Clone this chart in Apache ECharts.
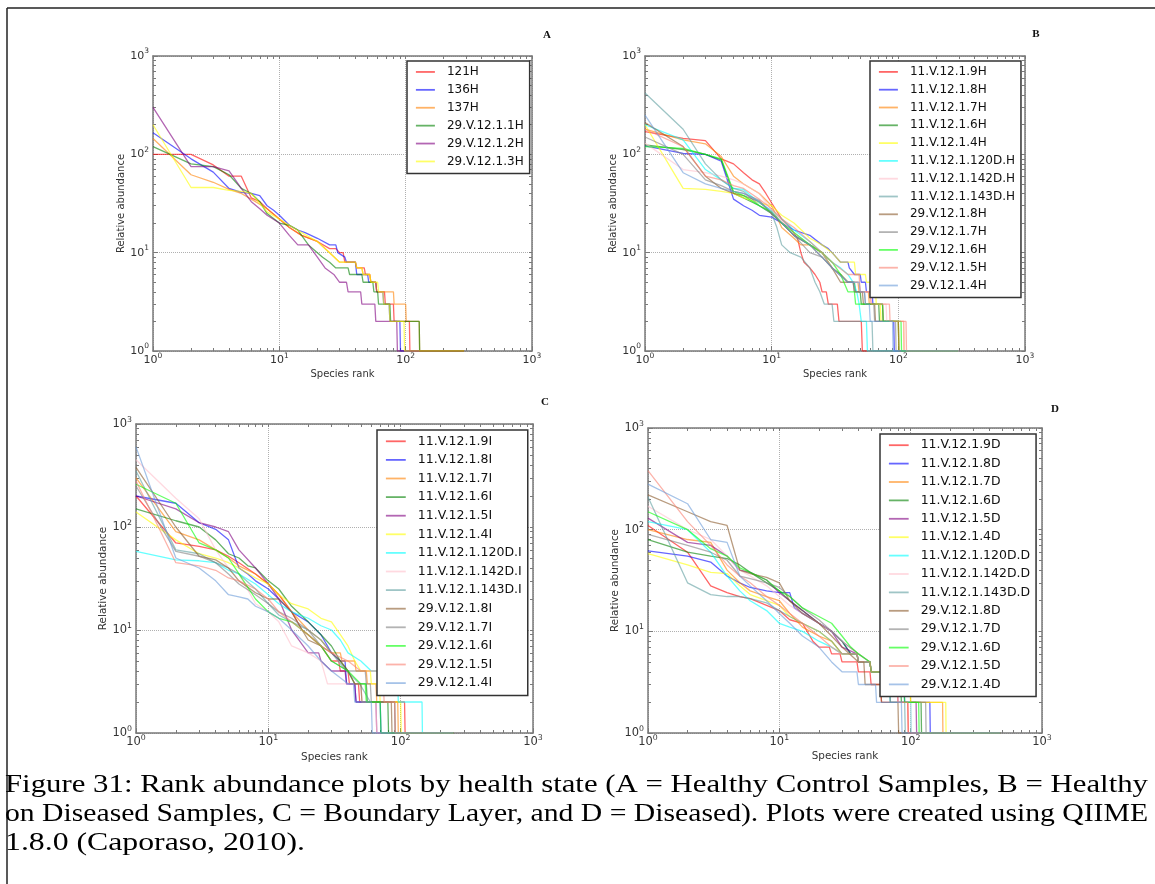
<!DOCTYPE html>
<html>
<head>
<meta charset="utf-8">
<script src="https://cdn.jsdelivr.net/npm/echarts@6/dist/echarts.min.js"></script>
<style>
  html, body { margin: 0; padding: 0; background: #fff; }
  #chart { width: 1155px; height: 884px; }
</style>
</head>
<body>
<div id="chart"></div>
<script>
// ---- data: [species rank, relative abundance] ----
const minorTicks = [1, 2, 3, 4, 5, 6, 7, 8, 9, 10, 20, 30, 40, 50, 60, 70, 80, 90,
  100, 200, 300, 400, 500, 600, 700, 800, 900, 1000];

// panel A: healthy control samples
const namesA = ['121H', '136H', '137H', '29.V.12.1.1H', '29.V.12.1.2H', '29.V.12.1.3H'];
const A_121H = [[1,100],[2,100],[3,78],[4,60],[5,60],[6,36],[7,33],[8,28],[10,22],[12,18],[15,15],[20,13],[25,11],[28,11],[30,10],[32,10],[33,8],[40,8],[41,7],[47,7],[48,6],[52,6],[53,5],[58,5],[59,4],[68,4],[69,3],[80,3],[81,2],[107,2],[108,1],[290,1]];
const A_136H = [[1,166],[2,90],[3,66],[4,45],[5,41],[6,40],[7,38],[8,30],[9,27],[10,24],[12,19],[14,17],[16,16],[20,14],[25,12],[28,12],[29,10],[33,9],[34,8],[40,8],[41,6],[50,6],[51,5],[58,5],[59,4],[66,4],[67,3],[74,3],[75,2],[90,2],[91,1],[290,1]];
const A_137H = [[1,145],[2,62],[3,52],[4,44],[5,40],[6,35],[8,28],[10,22],[12,18],[15,15],[20,13],[25,10],[30,8],[40,8],[41,7],[45,7],[46,6],[52,6],[53,5],[58,5],[59,4],[80,4],[81,3],[100,3],[101,2],[128,2],[129,1],[290,1]];
const A_11H = [[1,120],[2,80],[3,75],[4,62],[5,45],[6,40],[7,33],[8,25],[10,20],[12,19],[14,17],[17,12],[20,10],[22,9],[25,8],[28,7],[35,7],[36,6],[45,6],[46,5],[55,5],[56,4],[60,4],[61,3],[75,3],[76,2],[128,2],[129,1],[290,1]];
const A_12H = [[1,300],[2,75],[3,75],[4,68],[5,45],[6,33],[7,28],[8,24],[10,20],[12,15],[14,12],[17,12],[20,9],[23,7],[27,6],[30,5],[34,5],[35,4],[44,4],[45,3],[57,3],[58,2],[85,2],[86,1],[290,1]];
const A_13H = [[1,200],[2,46],[3,46],[4,43],[5,42],[6,40],[8,26],[10,22],[12,19],[15,16],[20,13],[25,10],[30,8],[40,8],[41,7],[45,7],[46,6],[52,6],[53,5],[60,5],[61,4],[66,4],[67,3],[74,3],[75,2],[97,2],[98,1],[290,1]];

// panel B: healthy on diseased samples
const namesB = ['11.V.12.1.9H', '11.V.12.1.8H', '11.V.12.1.7H', '11.V.12.1.6H', '11.V.12.1.4H',
  '11.V.12.1.120D.H', '11.V.12.1.142D.H', '11.V.12.1.143D.H', '29.V.12.1.8H', '29.V.12.1.7H',
  '29.V.12.1.6H', '29.V.12.1.5H', '29.V.12.1.4H'];
const B_9H = [[1,170],[2,145],[3,138],[4,90],[5,80],[6,65],[7,55],[8,50],[9,40],[10,32],[12,22],[14,18],[16,14],[17,10],[18,8],[20,7],[22,6],[24,5],[25,4],[27,4],[28,3],[33,3],[34,2],[51,2],[52,1],[295,1]];
const B_8H = [[1,122],[2,102],[3,100],[4,85],[5,35],[6,30],[7,27],[8,24],[10,23],[12,20],[15,17],[20,15],[25,12],[28,11],[30,10],[35,8],[40,8],[41,7],[45,6],[50,6],[51,5],[55,5],[56,4],[62,4],[63,3],[75,3],[76,2],[92,2],[93,1],[295,1]];
const B_7H = [[1,180],[2,140],[3,128],[4,95],[5,60],[6,50],[8,40],[10,30],[12,18],[15,14],[17,12],[20,12],[25,10],[30,7],[35,6],[40,5],[48,5],[49,4],[58,4],[59,3],[75,3],[76,2],[110,2],[111,1],[295,1]];
const B_6H = [[1,125],[2,112],[3,100],[4,88],[5,40],[6,36],[8,30],[10,25],[12,20],[15,15],[20,12],[25,10],[30,7],[35,6],[40,5],[45,5],[46,4],[50,4],[51,3],[70,3],[71,2],[100,2],[101,1],[295,1]];
const B_4H = [[1,200],[2,45],[3,44],[4,42],[5,40],[6,36],[8,32],[10,30],[12,24],[15,20],[18,16],[20,14],[25,12],[30,10],[35,8],[45,8],[46,6],[55,6],[56,5],[62,5],[63,4],[66,4],[67,3],[72,3],[73,2],[100,2],[101,1],[295,1]];
const B_120DH = [[1,200],[2,140],[3,70],[4,55],[5,45],[6,44],[8,32],[10,27],[12,22],[15,17],[20,13],[25,10],[30,8],[35,7],[40,6],[44,5],[47,4],[49,3],[51,2],[56,2],[57,1],[295,1]];
const B_142DH = [[1,130],[2,70],[3,65],[4,60],[5,55],[6,50],[8,40],[10,27],[12,21],[15,16],[20,12],[25,10],[30,7],[40,5],[49,5],[50,4],[60,4],[61,3],[80,3],[81,2],[110,2],[111,1],[295,1]];
const B_143DH = [[1,420],[2,180],[3,80],[4,55],[5,45],[6,42],[8,30],[10,25],[11,18],[12,12],[14,10],[17,9],[20,7],[22,5],[24,4],[26,3],[30,3],[31,2],[62,2],[63,1],[295,1]];
const B_29_8H = [[1,210],[2,120],[3,60],[4,45],[5,40],[6,38],[8,33],[10,25],[12,20],[15,15],[20,12],[25,9],[30,7],[35,5],[44,5],[45,4],[52,4],[53,3],[65,3],[66,2],[100,2],[101,1],[295,1]];
const B_29_7H = [[1,150],[2,100],[3,55],[4,48],[5,42],[6,40],[8,34],[10,25],[12,20],[15,15],[20,10],[25,9],[30,7],[40,5],[44,5],[45,4],[54,4],[55,3],[64,3],[65,2],[95,2],[96,1],[295,1]];
const B_29_6H = [[1,120],[2,115],[3,100],[4,90],[5,42],[6,38],[8,30],[10,26],[12,20],[15,16],[20,12],[25,10],[30,8],[35,6],[40,4],[45,4],[46,3],[75,3],[76,2],[105,2],[106,1],[295,1]];
const B_29_5H = [[1,180],[2,120],[3,60],[4,55],[5,48],[6,45],[8,35],[10,28],[12,22],[15,18],[20,13],[25,10],[30,8],[40,6],[49,6],[50,4],[60,4],[61,3],[85,3],[86,2],[115,2],[116,1],[295,1]];
const B_29_4H = [[1,250],[2,65],[3,50],[4,45],[5,42],[6,40],[8,33],[10,26],[12,20],[15,15],[20,12],[25,9],[30,7],[40,5],[49,5],[50,4],[54,4],[55,3],[59,3],[60,2],[90,2],[91,1],[295,1]];

// panel C: boundary layer
const namesC = ['11.V.12.1.9I', '11.V.12.1.8I', '11.V.12.1.7I', '11.V.12.1.6I', '11.V.12.1.5I',
  '11.V.12.1.4I', '11.V.12.1.120D.I', '11.V.12.1.142D.I', '11.V.12.1.143D.I', '29.V.12.1.8I',
  '29.V.12.1.7I', '29.V.12.1.6I', '29.V.12.1.5I', '29.V.12.1.4I'];
const C_9I = [[1,200],[2,70],[3,65],[4,60],[5,52],[6,45],[8,35],[10,28],[12,22],[15,15],[18,10],[20,9],[25,7],[30,5],[34,5],[35,4],[40,4],[41,3],[48,3],[49,2],[107,2],[108,1],[250,1]];
const C_8I = [[1,200],[2,170],[3,110],[4,95],[5,75],[6,40],[7,35],[8,30],[10,25],[12,20],[15,15],[18,13],[20,12],[25,9],[30,6],[35,5],[38,5],[39,3],[45,3],[46,2],[70,2],[71,1],[250,1]];
const C_7I = [[1,300],[2,90],[3,75],[4,60],[5,50],[6,42],[8,35],[10,28],[12,22],[15,15],[20,10],[25,8],[30,6],[35,6],[36,5],[45,5],[46,4],[55,4],[56,3],[65,3],[66,2],[95,2],[96,1],[250,1]];
const C_6I = [[1,150],[2,115],[3,100],[4,75],[5,55],[6,50],[7,42],[8,40],[10,30],[12,25],[15,17],[20,12],[25,9],[30,7],[35,5],[40,4],[45,3],[55,3],[56,2],[80,2],[81,1],[250,1]];
const C_5I = [[1,200],[2,150],[3,110],[4,100],[5,90],[6,60],[8,40],[10,28],[12,20],[15,10],[17,8],[20,6],[24,6],[25,5],[30,4],[38,4],[39,3],[45,3],[46,2],[65,2],[66,1],[250,1]];
const C_4I = [[1,140],[2,75],[3,55],[4,50],[5,45],[6,40],[8,32],[10,28],[12,22],[15,18],[20,16],[25,13],[30,12],[35,9],[40,7],[45,5],[50,4],[59,4],[60,3],[69,3],[70,2],[100,2],[101,1],[250,1]];
const C_120DI = [[1,58],[2,48],[3,47],[4,45],[5,38],[6,35],[8,28],[10,22],[12,18],[15,15],[20,13],[25,11],[30,10],[35,8],[40,6],[50,5],[60,4],[80,4],[81,3],[95,3],[96,2],[145,2],[146,1],[250,1]];
const C_142DI = [[1,450],[2,190],[3,120],[4,60],[5,40],[6,35],[8,18],[10,15],[12,12],[15,7],[20,6],[25,5],[28,3],[50,3],[51,2],[65,2],[66,1],[250,1]];
const C_143DI = [[1,350],[2,60],[3,55],[4,45],[5,40],[6,35],[8,25],[10,18],[12,14],[15,12],[20,10],[25,8],[30,6],[39,4],[40,4],[49,3],[50,3],[59,2],[90,2],[91,1],[250,1]];
const C_29_8I = [[1,380],[2,100],[3,52],[4,48],[5,40],[6,30],[8,23],[10,20],[12,20],[15,15],[18,10],[20,8],[25,7],[30,6],[35,5],[40,4],[45,3],[50,3],[51,2],[85,2],[86,1],[250,1]];
const C_29_7I = [[1,250],[2,58],[3,52],[4,45],[5,35],[6,28],[8,22],[10,18],[12,15],[15,13],[20,10],[25,7],[30,5],[40,4],[54,4],[55,3],[59,3],[60,2],[90,2],[91,1],[250,1]];
const C_29_6I = [[1,260],[2,170],[3,70],[4,60],[5,50],[6,35],[8,20],[10,15],[12,13],[15,12],[20,9],[25,7],[30,5],[40,4],[50,3],[54,3],[55,2],[70,2],[71,1],[250,1]];
const C_29_5I = [[1,280],[2,45],[3,42],[4,38],[5,32],[6,30],[8,25],[10,20],[12,15],[15,12],[20,9],[25,7],[30,6],[40,5],[50,4],[70,4],[71,3],[74,3],[75,2],[90,2],[91,1],[250,1]];
const C_29_4I = [[1,600],[2,50],[3,40],[4,30],[5,22],[6,21],[7,20],[8,17],[10,15],[12,13],[15,10],[20,7],[25,5],[30,4],[40,3],[44,3],[45,2],[60,2],[61,1],[250,1]];

// panel D: diseased
const namesD = ['11.V.12.1.9D', '11.V.12.1.8D', '11.V.12.1.7D', '11.V.12.1.6D', '11.V.12.1.5D',
  '11.V.12.1.4D', '11.V.12.1.120D.D', '11.V.12.1.142D.D', '11.V.12.1.143D.D', '29.V.12.1.8D',
  '29.V.12.1.7D', '29.V.12.1.6D', '29.V.12.1.5D', '29.V.12.1.4D'];
const D_9D = [[1,110],[2,60],[3,28],[4,24],[5,22],[6,21],[8,18],[10,16],[12,13],[15,12],[18,8],[20,7],[24,7],[25,6],[29,6],[30,5],[39,5],[40,4],[49,4],[50,3],[59,3],[60,2],[95,2],[96,1],[480,1]];
const D_8D = [[1,62],[2,55],[3,48],[4,35],[5,30],[6,27],[8,25],[10,24],[12,24],[13,17],[15,15],[20,12],[25,10],[30,8],[35,6],[39,6],[40,5],[49,5],[50,4],[59,4],[60,3],[89,3],[90,2],[140,2],[141,1],[480,1]];
const D_7D = [[1,100],[2,80],[3,75],[4,40],[5,30],[6,25],[8,22],[10,20],[12,15],[15,11],[20,9],[25,8],[30,6],[39,6],[40,5],[49,5],[50,4],[59,4],[60,3],[99,3],[100,2],[175,2],[176,1],[480,1]];
const D_6D = [[1,80],[2,60],[3,55],[4,52],[5,45],[6,38],[8,30],[10,25],[12,20],[15,16],[20,12],[25,10],[30,8],[35,6],[39,6],[40,5],[49,5],[50,4],[59,4],[60,3],[84,3],[85,2],[120,2],[121,1],[480,1]];
const D_5D = [[1,130],[2,75],[3,70],[4,55],[5,40],[6,38],[8,32],[10,24],[12,20],[15,16],[20,12],[25,10],[30,7],[39,6],[40,5],[49,5],[50,4],[59,4],[60,3],[79,3],[80,2],[110,2],[111,1],[480,1]];
const D_4D = [[1,58],[2,45],[3,38],[4,37],[5,28],[6,23],[8,20],[10,18],[12,14],[15,12],[20,10],[25,8],[30,6],[39,6],[40,5],[49,5],[50,4],[59,4],[60,3],[99,3],[100,2],[185,2],[186,1],[480,1]];
const D_120DD = [[1,120],[2,100],[3,60],[4,35],[5,25],[6,20],[8,16],[10,12],[12,11],[15,10],[20,8],[25,7],[30,6],[39,6],[40,5],[49,5],[50,4],[59,4],[60,3],[69,3],[70,2],[100,2],[101,1],[480,1]];
const D_142DD = [[1,170],[2,100],[3,80],[4,55],[5,40],[6,35],[8,28],[10,22],[12,18],[15,15],[20,12],[25,10],[30,8],[40,6],[49,5],[50,4],[59,4],[60,3],[79,3],[80,2],[100,2],[101,1],[480,1]];
const D_143DD = [[1,210],[2,30],[3,23],[4,22],[5,22],[6,21],[8,19],[10,16],[12,14],[15,12],[20,10],[25,8],[30,6],[39,6],[40,5],[49,5],[50,4],[59,4],[60,3],[69,3],[70,2],[90,2],[91,1],[480,1]];
const D_29_8D = [[1,220],[2,150],[3,120],[4,110],[5,40],[6,37],[8,34],[10,30],[12,20],[15,15],[20,12],[25,9],[30,7],[40,5],[44,5],[45,3],[59,3],[60,2],[80,2],[81,1],[480,1]];
const D_29_7D = [[1,90],[2,70],[3,60],[4,50],[5,35],[6,33],[8,30],[10,27],[12,22],[15,17],[20,13],[25,10],[30,8],[40,6],[49,5],[50,4],[59,4],[60,3],[69,3],[70,2],[130,2],[131,1],[480,1]];
const D_29_6D = [[1,150],[2,100],[3,65],[4,55],[5,42],[6,38],[8,32],[10,25],[12,22],[15,17],[20,14],[25,12],[30,9],[35,7],[40,6],[49,5],[50,4],[59,4],[60,3],[89,3],[90,2],[115,2],[116,1],[480,1]];
const D_29_5D = [[1,380],[2,120],[3,70],[4,45],[5,35],[6,30],[8,22],[10,18],[12,15],[15,12],[20,9],[25,7],[30,6],[39,6],[40,5],[49,5],[50,4],[59,4],[60,3],[79,3],[80,2],[95,2],[96,1],[480,1]];
const D_29_4D = [[1,280],[2,180],[3,80],[4,75],[5,35],[6,28],[8,20],[10,15],[12,12],[15,9],[20,7],[25,5],[30,4],[39,4],[40,3],[54,3],[55,2],[85,2],[86,1],[480,1]];

const caption = [
  'Figure 31: Rank abundance plots by health state (A = Healthy Control Samples, B = Healthy',
  'on Diseased Samples, C = Boundary Layer, and D = Diseased). Plots were created using QIIME',
  '1.8.0 (Caporaso, 2010).'
];

// ---- styling ----
const palette = ['#ff0000', '#0000ff', '#ff8000', '#008000', '#800080', '#ffff00', '#00ffff',
  '#ffc0cb', '#5f9ea0', '#8b5a2b', '#808080', '#00ff00', '#fa8072', '#6a9bd8'];

const panels = [
  { letter: 'A', names: namesA, data: [A_121H, A_136H, A_137H, A_11H, A_12H, A_13H],
    colors: [0, 1, 2, 3, 4, 5], grid: { left: 153, top: 56, width: 379, height: 295 },
    legend: { left: 407, top: 61 }, pitch: 17.9, s: 1, letterPos: [547, 35] },
  { letter: 'B', names: namesB,
    data: [B_9H, B_8H, B_7H, B_6H, B_4H, B_120DH, B_142DH, B_143DH, B_29_8H, B_29_7H, B_29_6H, B_29_5H, B_29_4H],
    colors: [0, 1, 2, 3, 5, 6, 7, 8, 9, 10, 11, 12, 13], grid: { left: 645, top: 56, width: 380, height: 295 },
    legend: { left: 870, top: 61 }, pitch: 17.8, s: 1, letterPos: [1036, 34] },
  { letter: 'C', names: namesC,
    data: [C_9I, C_8I, C_7I, C_6I, C_5I, C_4I, C_120DI, C_142DI, C_143DI, C_29_8I, C_29_7I, C_29_6I, C_29_5I, C_29_4I],
    colors: [0, 1, 2, 3, 4, 5, 6, 7, 8, 9, 10, 11, 12, 13], grid: { left: 136, top: 424, width: 397, height: 309 },
    legend: { left: 377, top: 430 }, pitch: 18.6, s: 1.045, letterPos: [545, 402] },
  { letter: 'D', names: namesD,
    data: [D_9D, D_8D, D_7D, D_6D, D_5D, D_4D, D_120DD, D_142DD, D_143DD, D_29_8D, D_29_7D, D_29_6D, D_29_5D, D_29_4D],
    colors: [0, 1, 2, 3, 4, 5, 6, 7, 8, 9, 10, 11, 12, 13], grid: { left: 648, top: 428, width: 394, height: 305 },
    legend: { left: 880, top: 434 }, pitch: 18.4, s: 1.04, letterPos: [1055, 409] }
];

const axisGray = '#7a7a7a';
const font = 'DejaVu Sans';

function powLabel(s, margin) {
  return {
    show: true, margin: margin,
    showMinLabel: true, showMaxLabel: true,
    formatter: v => '{b|10}{e|' + Math.round(Math.log10(v)) + '}',
    rich: {
      b: { fontFamily: font, fontSize: 11 * s, lineHeight: 17, color: '#333' },
      e: { fontFamily: font, fontSize: 7.5 * s, lineHeight: 8, verticalAlign: 'top', color: '#333' }
    }
  };
}

const gridLine = { show: true, lineStyle: { color: '#b0b0b0', type: 'dotted', width: 1 } };
const boxLine = { show: true, lineStyle: { color: axisGray, width: 1.5 } };
const majorTick = { show: true, inside: true, length: 5, lineStyle: { color: axisGray, width: 1 } };
const minorTick = { show: true, inside: true, length: 3, customValues: minorTicks, lineStyle: { color: axisGray, width: 1 } };

const option = {
  animation: false,
  backgroundColor: '#fff',
  grid: [], xAxis: [], yAxis: [], legend: [], series: [], graphic: []
};

panels.forEach((p, i) => {
  option.grid.push(Object.assign({ show: false }, p.grid));
  const base = { type: 'log', logBase: 10, min: 1, max: 1000, gridIndex: i };
  const nameStyle = { fontFamily: font, fontSize: 10 * p.s, color: '#333' };
  // main axes: labels, decade ticks, dotted grid
  option.xAxis.push(Object.assign({}, base, {
    position: 'bottom', name: 'Species rank', nameLocation: 'middle', nameGap: 18 * p.s,
    nameTextStyle: nameStyle, axisLine: boxLine, axisTick: majorTick,
    axisLabel: powLabel(p.s, 1), splitLine: gridLine
  }));
  // mirror axes on top/right with minor ticks
  option.xAxis.push(Object.assign({}, base, {
    position: 'top', axisLine: boxLine, axisTick: minorTick, axisLabel: { show: false }, splitLine: { show: false }
  }));
  // minor ticks on the bottom/left
  option.xAxis.push(Object.assign({}, base, {
    position: 'bottom', axisLine: { show: false }, axisTick: minorTick, axisLabel: { show: false }, splitLine: { show: false }
  }));
  option.yAxis.push(Object.assign({}, base, {
    position: 'left', name: 'Relative abundance', nameLocation: 'middle', nameGap: 26 * p.s,
    nameTextStyle: nameStyle, axisLine: boxLine, axisTick: majorTick,
    axisLabel: powLabel(p.s, 4), splitLine: gridLine
  }));
  option.yAxis.push(Object.assign({}, base, {
    position: 'right', axisLine: boxLine, axisTick: minorTick, axisLabel: { show: false }, splitLine: { show: false }
  }));
  option.yAxis.push(Object.assign({}, base, {
    position: 'left', axisLine: { show: false }, axisTick: minorTick, axisLabel: { show: false }, splitLine: { show: false }
  }));

  p.data.forEach((d, k) => {
    const c = palette[p.colors[k]];
    option.series.push({
      type: 'line', name: p.names[k], data: d,
      xAxisIndex: 3 * i, yAxisIndex: 3 * i,
      symbol: 'none', showSymbol: false, silent: true,
      itemStyle: { color: c },
      lineStyle: { color: c, width: 1.3, opacity: 0.6 }
    });
  });

  option.legend.push({
    data: p.names, orient: 'vertical', left: p.legend.left, top: p.legend.top,
    itemWidth: 19 * p.s, itemHeight: 8, itemGap: 0, padding: [2, 6, 3, 8],
    borderColor: '#333', borderWidth: 1.5, borderRadius: 0, backgroundColor: '#fff',
    selectedMode: false, itemStyle: { opacity: 0 }, lineStyle: { width: 1.8 },
    textStyle: { fontFamily: font, fontSize: 12 * p.s, color: '#111', lineHeight: p.pitch, padding: [0, 0, 0, 7] }
  });

  option.graphic.push({
    type: 'text', x: p.letterPos[0], y: p.letterPos[1],
    style: { text: p.letter, font: 'bold 11px "Liberation Serif"', fill: '#111', align: 'center', verticalAlign: 'middle' }
  });
});

// frame around the figure
option.graphic.push(
  { type: 'line', shape: { x1: 7, y1: 8, x2: 7, y2: 884 }, style: { stroke: '#222', lineWidth: 1.5 } },
  { type: 'line', shape: { x1: 7, y1: 8, x2: 1155, y2: 8 }, style: { stroke: '#222', lineWidth: 1.5 } }
);

// caption, stretched to the widths of the original lines
const capFont = '26px "Liberation Serif"';
const ctx = document.createElement('canvas').getContext('2d');
ctx.font = capFont;
const capWidths = [1143, 1143, 300];
const capY = [785, 814, 843];
caption.forEach((t, k) => {
  option.graphic.push({
    type: 'text', x: 5, y: capY[k], scaleX: capWidths[k] / ctx.measureText(t).width,
    style: { text: t, font: capFont, fill: '#000', align: 'left', verticalAlign: 'middle' }
  });
});

const chart = echarts.init(document.getElementById('chart'), null, { renderer: 'canvas' });
chart.setOption(option);
</script>
</body>
</html>
